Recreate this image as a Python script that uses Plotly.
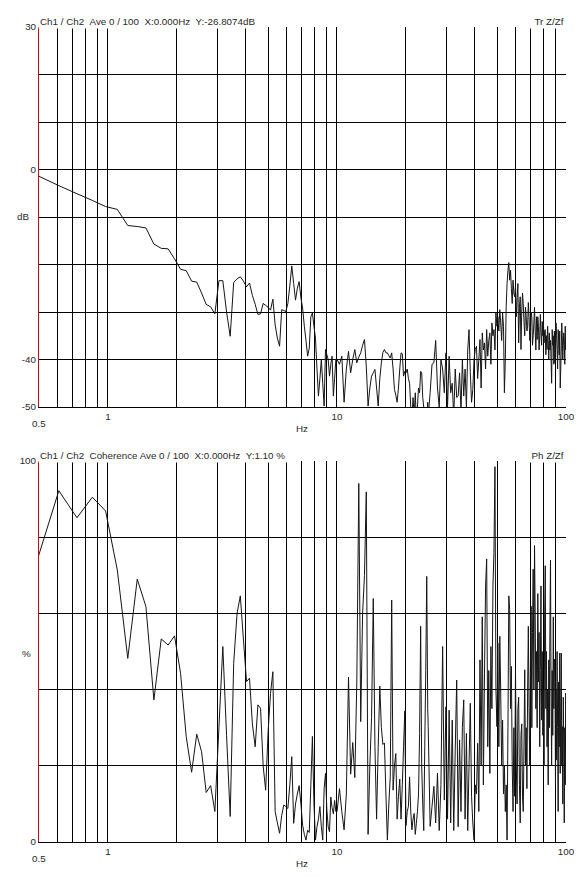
import numpy as np
import plotly.graph_objects as go

# ---------------- data ----------------
DF = 0.1220703125  # analyser line spacing (Hz)
# analyser line indices used (full resolution below 10 Hz, decimated above)
k_low = np.arange(4, 82)
k_mid = np.arange(82, 205, 2)
k_high = np.arange(205, 822, 4)
freq = np.concatenate([k_low, k_mid, k_high]) * DF

# Transfer function magnitude (dB)
tr_db_low = [-1.2, -3.4, -5.1, -6.5, -7.8, -8.4, -11.8, -12.0, -12.3, -15.7,
             -16.6, -16.7, -18.8, -21.0, -21.3, -23.5, -23.7, -26.0, -28.4, -28.9,
             -30.4, -23.4, -23.4, -30.0, -35.1, -23.8, -23.0, -22.6, -23.5, -24.7,
             -23.9, -26.5, -28.4, -30.5, -30.4, -28.2, -28.6, -29.0, -29.6, -27.3,
             -32.7, -35.5, -37.2, -29.5, -29.7, -29.9, -28.2, -24.5, -20.3, -24.0,
             -27.5, -25.0, -23.6, -27.0, -29.2, -33.0, -36.0, -39.3, -37.6, -31.0,
             -30.2, -33.0, -35.5, -42.0, -47.7, -44.0, -40.0, -45.0, -49.8, -37.9,
             -39.0, -40.0, -43.5, -41.0, -39.3, -47.7, -44.0, -40.0]
tr_db_mid = [-40, -41, -39.3, -49, -42, -38.3, -42.8, -40, -37.9, -40.7,
             -39.5, -38.6, -37, -35.8, -41.4, -49.8, -46, -43.5, -42.8, -42.1,
             -46, -49.8, -44, -40.7, -38.5, -37.9, -38.6, -38.6, -39.2, -39.7,
             -38.6, -42, -46.3, -47.5, -49, -46, -42, -38.6, -38.8, -43.5,
             -42.5, -42.8, -42, -44, -45, -50, -53, -48, -52, -47,
             -53, -50, -46, -47, -42.5, -42.8, -48, -50, -53, -50,
             -54, -49]
tr_db_high = [-52, -47, -41, -40.7, -36, -46, -50, -40, -42, -47, -38.6,
              -50, -39.3, -47, -45, -52, -42, -48, -47.7, -42.8, -51, -40,
              -47.7, -42, -50, -38, -33.7, -42.8, -49, -46.3, -40, -37.9,
              -37.2, -44, -40, -35.8, -46, -34.4, -38, -36.5, -42, -33.7,
              -39.3, -36, -34.4, -41, -32.3, -35, -33.7, -38, -30.2, -33,
              -31, -34, -29.5, -32.3, -36, -30.2, -33, -47, -40, -28.8,
              -24, -21.2, -19.6, -23.3, -21.2, -25, -28.2, -23.3, -26, -26.8,
              -24.5, -31, -27, -24, -36.5, -29, -26.8, -37.9, -30, -26,
              -28.2, -32, -35, -29, -31, -34, -33, -28, -31, -36,
              -33.7, -30, -31, -37, -35, -32.3, -29, -34, -38, -31,
              -35.8, -31, -33, -38, -35, -30.5, -34.4, -37, -32, -35,
              -32.3, -36.5, -34, -33.7, -39, -35, -37.9, -33, -36, -40,
              -34.4, -38, -36, -40, -45, -33.7, -37, -35, -41, -34,
              -40.7, -36, -32.3, -35, -37.9, -42, -33.7, -36, -39, -34, -46,
              -42, -38, -32.3, -35, -40, -37, -34.4, -36, -41, -33, -38, -35]

# Coherence (%)
coh_low = [73.5, 92.2, 85.1, 90.5, 86.9, 71.4, 48.2, 69.0, 61.8, 37.3,
           53.3, 51.7, 54.1, 44.3, 27.6, 18.3, 28.3, 23.7, 13.0, 14.8,
           8.0, 30.0, 51.3, 28.0, 6.7, 46.9, 60.0, 64.6, 53.0, 42.1,
           43.0, 31.0, 25.0, 36.0, 35.1, 20.0, 13.6, 29.0, 39.0, 44.7,
           8.0, 5.0, 2.3, 7.0, 9.7, 9.3, 8.8, 15.0, 22.4, 4.9,
           10.0, 12.6, 14.8, 10.0, 4.4, 2.0, 0.5, 3.1, 2.5, 15.0,
           27.7, 10.0, 0.5, 4.0, 6.0, 9.3, 4.0, 0.5, 14.0, 18.0,
           8.4, 4.0, 2.7, 11.8, 9.0, 7.4, 10.9, 8.0]
coh_mid = [8, 14, 8, 3.2, 12.6, 43.3, 17.8, 26.1, 16.9, 41.8,
           94.1, 31.6, 60, 70, 91.9, 2, 20, 32.7, 63.9, 25,
           6, 25, 40.9, 30, 25.6, 26, 12.6, 0.5, 10, 17.3,
           63.5, 13.6, 20, 23.2, 6, 12, 16.5, 6, 15, 25,
           34.4, 4.3, 8, 9.3, 17.1, 8, 3.2, 6, 7.5, 2,
           4.9, 8, 12.6, 28.5, 56.6, 20, 10, 3, 25, 45,
           69.7, 35]
coh_high = [30.3, 4.1, 9.3, 14.6, 5, 18.1, 3, 15, 51.3, 11, 35.5,
            6, 34.6, 5, 32, 3, 24.1, 42.5, 4, 26.8, 8, 30,
            37.3, 6, 28.5, 3, 20, 36.4, 12, 5, 0.5, 15,
            12.6, 25.9, 8, 47.8, 20, 59.1, 15, 44.3, 67.2, 74.3,
            25, 45, 18, 51.3, 35, 67.2, 76, 98.5, 40, 30.3,
            52.2, 25, 54, 39.1, 20, 32, 12.6, 20, 8, 15,
            0.5, 30, 64.6, 61, 35, 46.1, 20, 8, 30, 12,
            45.2, 20, 10, 35, 38, 15, 5, 28, 31, 12,
            8, 25, 45.2, 20, 30, 14, 40, 56.6, 35, 20,
            45, 61.9, 30, 55, 71.6, 40, 77.8, 60, 35, 50,
            30, 65.2, 42, 55, 25, 45, 67.2, 32, 50, 28,
            40, 20, 60, 72.5, 35, 50, 25, 40, 15, 47.8,
            30, 56.6, 74, 38, 20, 45, 28, 59.1, 35, 48,
            44.3, 15, 40, 21.5, 50, 30, 8, 42, 25, 49.6, 18,
            35, 49.6, 20, 30.3, 10, 38, 25, 5, 30, 15, 39.1, 22]

tr_db = tr_db_low + tr_db_mid + tr_db_high
coh = coh_low + coh_mid + coh_high
assert len(tr_db) == len(freq) and len(coh) == len(freq)

x_tickvals = [0.6, 0.7, 0.8, 0.9, 1, 2, 3, 4, 5, 6, 7, 8, 9,
              10, 20, 30, 40, 50, 60, 70, 80, 90, 100]
x_ticktext = ['1' if v == 1 else '10' if v == 10 else '100' if v == 100 else '' for v in x_tickvals]
db_tickvals = [-50, -40, -30, -20, -10, 0, 10, 20, 30]
db_ticktext = ['-50', '-40', '', '', '', '0', '', '', '30']
pc_tickvals = [0, 20, 40, 60, 80, 100]
pc_ticktext = ['0', '', '', '', '', '100']

title_top = "Ch1 / Ch2  Ave 0 / 100  X:0.000Hz  Y:-26.8074dB"
title_bot = "Ch1 / Ch2  Coherence Ave 0 / 100  X:0.000Hz  Y:1.10 %"
right_top = "Tr Z/Zf"
right_bot = "Ph Z/Zf"

# ---------------- layout helpers ----------------
OFF = 8               # the page body margin offsets the figure by 8 px
W, H = 585 - OFF, 877 - OFF
FONT = "Liberation Sans, Arial, sans-serif"
FS = 9.8
TXT = "#2a2a2a"
NB = "\u00a0"


def px(x):
    return (x - OFF) / W


def py(y):
    return 1 - (y - OFF) / H


def keep(s):
    return s.replace("  ", " " + NB)


fig = go.Figure()
fig.add_trace(go.Scatter(x=freq, y=tr_db, mode="lines", xaxis="x", yaxis="y",
                         line=dict(color="#151515", width=1, simplify=False),
                         hoverinfo="skip", showlegend=False))
fig.add_trace(go.Scatter(x=freq, y=coh, mode="lines", xaxis="x2", yaxis="y2",
                         line=dict(color="#151515", width=1, simplify=False),
                         hoverinfo="skip", showlegend=False))

xcommon = dict(type="log", range=[np.log10(0.5), 2], domain=[px(39), px(566)],
               tickmode="array", tickvals=x_tickvals, ticktext=x_ticktext,
               showgrid=True, gridcolor="black", gridwidth=1,
               showline=True, linecolor="black", linewidth=1,
               ticks="", zeroline=False, fixedrange=True, automargin=False,
               tickfont=dict(family=FONT, size=FS, color=TXT))
ycommon = dict(showgrid=True, gridcolor="black", gridwidth=1,
               showline=True, linecolor="#dd0000", linewidth=1,
               ticks="", zeroline=False, fixedrange=True, tickmode="array",
               automargin=False,
               tickfont=dict(family=FONT, size=FS, color=TXT))

fig.update_layout(
    template="none",
    width=W, height=H,
    margin=dict(l=0, r=0, t=0, b=0, pad=0, autoexpand=False),
    paper_bgcolor="white", plot_bgcolor="white",
    font=dict(family=FONT, size=FS, color=TXT),
    showlegend=False,
    xaxis=dict(**xcommon, anchor="y"),
    yaxis=dict(**ycommon, anchor="x", domain=[py(407), py(27)], range=[-50, 30],
               tickvals=db_tickvals, ticktext=db_ticktext),
    xaxis2=dict(**xcommon, anchor="y2"),
    yaxis2=dict(**ycommon, anchor="x2", domain=[py(842), py(461)], range=[0, 100],
                tickvals=pc_tickvals, ticktext=pc_ticktext),
)

ann = []
# panel headers (white boxes hide the top frame line, as in the original)
for ytop, left, right in [(27, title_top, right_top), (461, title_bot, right_bot)]:
    ann.append(dict(text=keep(left) + NB * 3, x=px(39), y=py(ytop), xref="paper", yref="paper",
                    xanchor="left", yanchor="bottom", yshift=-2, xshift=-1, showarrow=False,
                    bgcolor="white", borderpad=1, font=dict(family=FONT, size=FS, color=TXT)))
    ann.append(dict(text=NB * 2 + right, x=px(566), y=py(ytop), xref="paper", yref="paper",
                    xanchor="right", yanchor="bottom", yshift=-2, showarrow=False,
                    bgcolor="white", borderpad=1, font=dict(family=FONT, size=FS, color=TXT)))
# axis names and the 0.5 start label
for text, x, y in [("dB", 23, 217), ("%", 26, 653), ("Hz", 302, 429), ("Hz", 302, 863),
                   ("0.5", 39, 423.5), ("0.5", 39, 858)]:
    ann.append(dict(text=text, x=px(x), y=py(y), xref="paper", yref="paper",
                    xanchor="center", yanchor="middle", showarrow=False,
                    font=dict(family=FONT, size=FS, color=TXT)))
fig.update_layout(annotations=ann)

fig.write_html("out.html")
